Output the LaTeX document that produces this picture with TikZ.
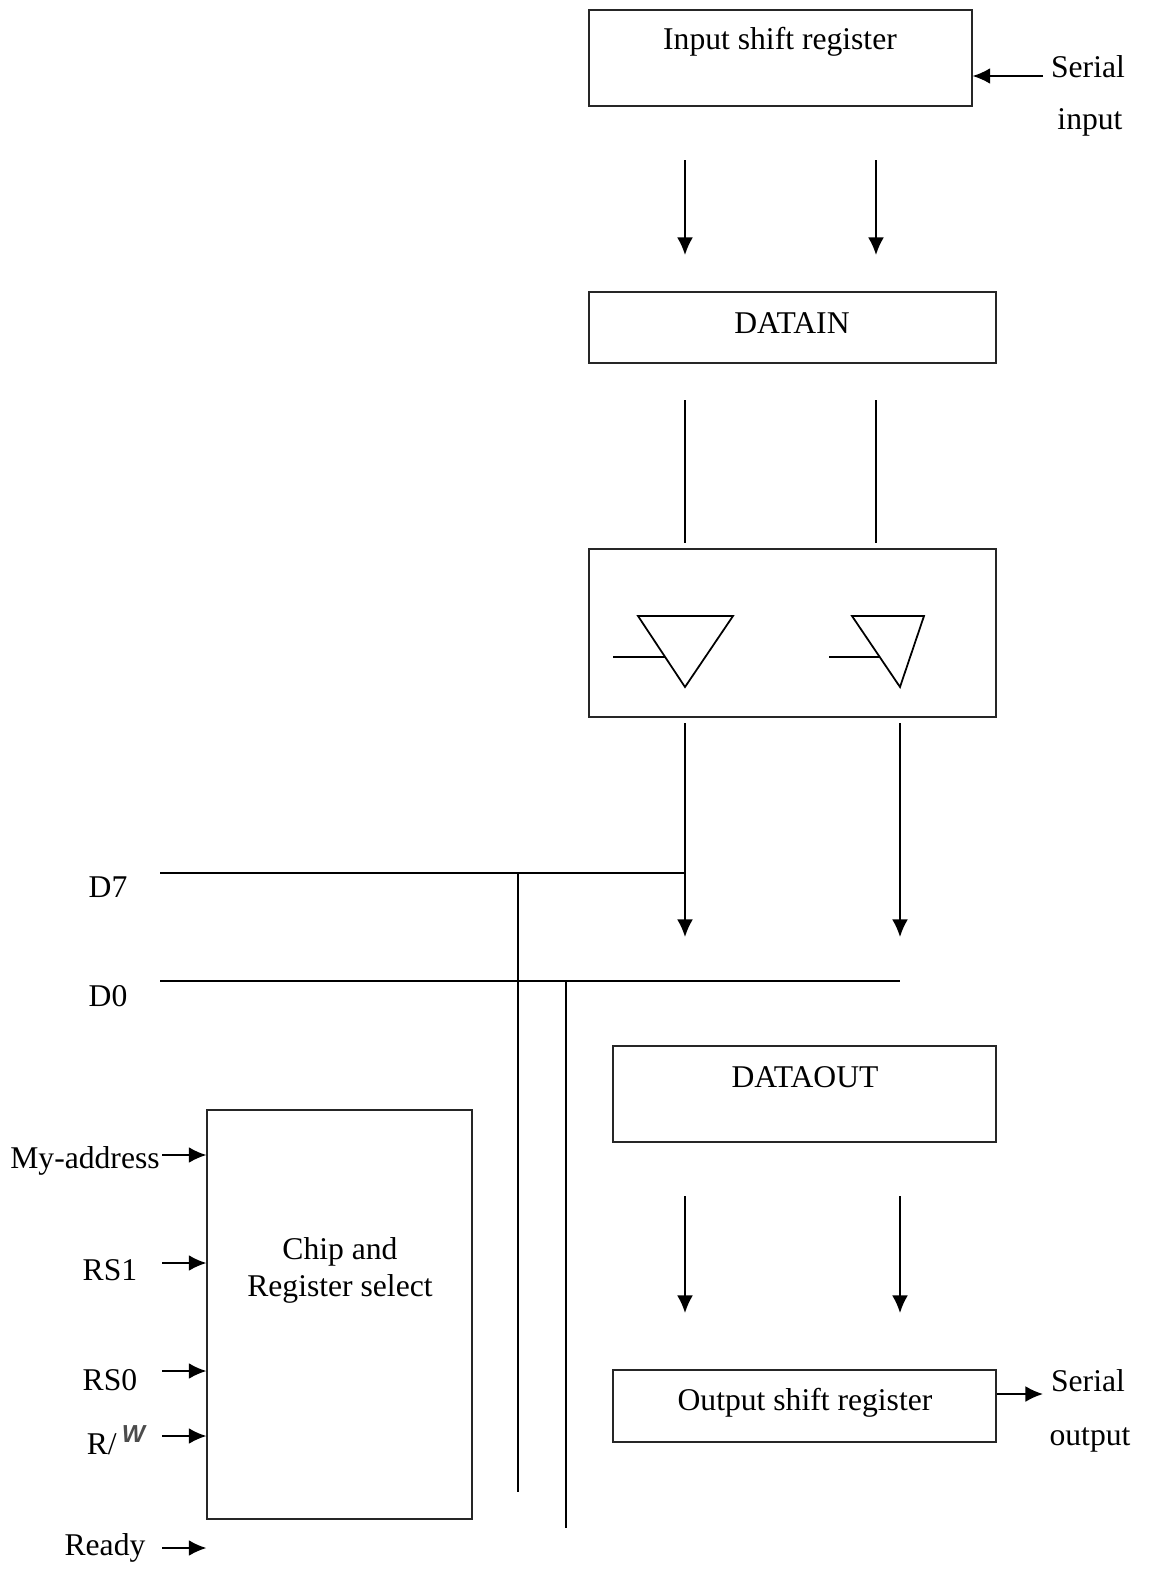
\documentclass[tikz,border=0pt]{standalone}
\usepackage{fontspec}
\setmainfont{Liberation Serif}
\newfontfamily\wfont{Liberation Sans}
\usepackage{tikz}
\usetikzlibrary{arrows.meta,fit,calc}

\begin{document}
\begin{tikzpicture}[
x=0.2mm, y=-0.2mm,
block/.style={
  draw=black!85,
  line width=0.7pt,
  inner sep=0pt,
  },
wire/.style={
  line width=1pt,
  },
sig/.style={
  wire,
  ->
  },
txt/.style={
  font=\fontsize{18}{21}\selectfont,
  inner sep=0pt,
  align=center
  },
>={Latex[length=10pt,width=9pt]}
]
\useasboundingbox (0,0) rectangle (1149,1579);

% boxes
\node[block, fit={(589,10) (972,106)}] (isr) {};
\node[block, fit={(589,292) (996,363)}] (din) {};
\node[block, fit={(589,549) (996,717)}] (buf) {};
\node[block, fit={(613,1046) (996,1142)}] (dout) {};
\node[block, fit={(613,1370) (996,1442)}] (osr) {};
\node[block, fit={(207,1110) (472,1519)}] (chip) {};

\node[txt] (isrtxt) at (780,42) {Input shift register};
\node[txt] (dintxt) at (792,323) {DATAIN};
\node[txt] (douttxt) at (805,1077) {DATAOUT};
\node[txt] (osrtxt) at (805,1403) {Output shift register};
\node[txt] (chiptxt) at (340,1270) {Chip and\\Register select};

% serial in / out
\node[txt] (sin1) at (1088,67) {Serial};
\node[txt] (sin2) at (1090,122) {input};
\node[txt] (sout1) at (1088,1381) {Serial};
\node[txt] (sout2) at (1090,1440) {output};
\coordinate (sin) at (1043,76);
\coordinate (sout) at (1043,1394);
\draw[sig] (sin) -- (sin -| isr.east);
\draw[sig] (sout -| osr.east) -- (sout);

% input register to DATAIN, DATAIN to buffers
\foreach \n/\x in {a/685,b/876}
{
  \coordinate (isr-\n) at (\x,160);
  \coordinate (din-\n) at (\x,255);
  \coordinate (dinout-\n) at (\x,400);
  \coordinate (bufin-\n) at (\x,543);
  \draw[sig] (isr-\n) -- (din-\n);
  \draw[wire] (dinout-\n) -- (bufin-\n);
}

% tri-state buffers
\foreach \x/\l/\r/\s in {685/638/733/613, 900/852/924/829}
{
  \draw[wire] (\l,616) -- (\r,616) -- (\x,687) -- cycle;
  \draw[wire] (\s,657) -- ({\l+(\x-\l)*41/71},657);
}

% buffers to bus, DATAOUT to output register
\foreach \n/\x in {a/685,b/900}
{
  \coordinate (bufout-\n) at (\x,723);
  \coordinate (bus-\n) at (\x,937);
  \coordinate (dout-\n) at (\x,1196);
  \coordinate (osr-\n) at (\x,1313);
  \draw[sig] (bufout-\n) -- (bus-\n);
  \draw[sig] (dout-\n) -- (osr-\n);
}

% data bus
\node[txt] (d7) at (108,887) {D7};
\node[txt] (d0) at (108,996) {D0};
\coordinate (d7l) at (160,873);
\coordinate (d0l) at (160,981);
\coordinate (d7v) at (518,1492);
\coordinate (d0v) at (566,1528);
\draw[wire] (d7l) -- (d7l -| bufout-a);
\draw[wire] (d0l) -- (d0l -| bufout-b);
\draw[wire] (d7l -| d7v) -- (d7v);
\draw[wire] (d0l -| d0v) -- (d0v);

% control inputs
\node[txt] (myaddr) at (85,1161) {My-address};
\node[txt] (rs1) at (110,1270) {RS1};
\node[txt] (rs0) at (110,1380) {RS0};
\node[txt] (rw) at (116,1440) {R/\,\raisebox{7pt}{\wfont\itshape\bfseries\fontsize{14}{14}\selectfont\color{black!70}W}};
\node[txt] (ready) at (105,1548) {Ready};
\foreach \n/\y in {myaddr/1155,rs1/1263,rs0/1371,rw/1436,ready/1548}
{
  \coordinate (\n-in) at (162,\y);
  \draw[sig] (\n-in) -- (\n-in -| chip.west);
}
\end{tikzpicture}
\end{document}
